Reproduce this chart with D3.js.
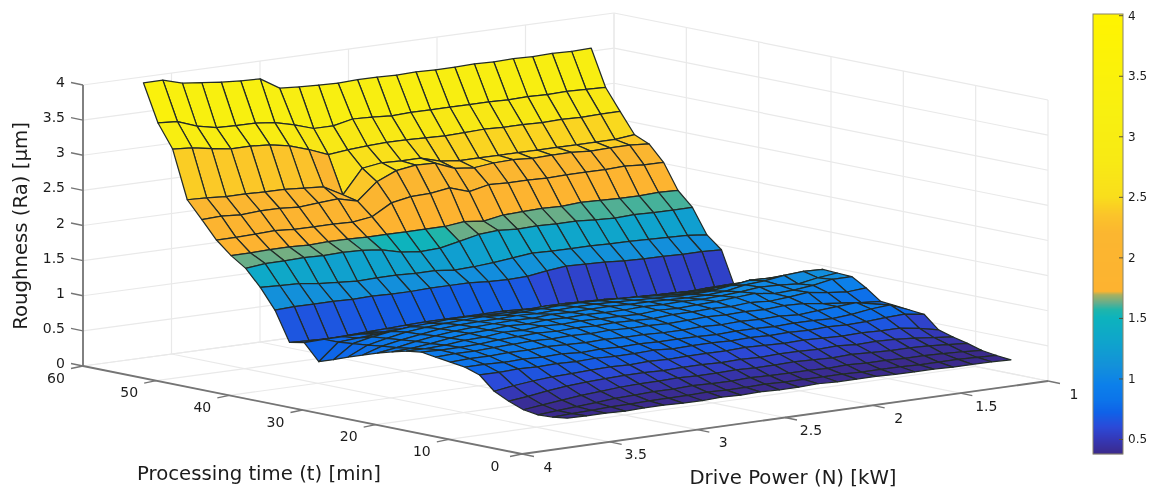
<!DOCTYPE html>
<html>
<head>
<meta charset="utf-8">
<title>Roughness surface</title>
<script src="https://cdn.jsdelivr.net/npm/d3@7"></script>
<style>
  html, body { margin: 0; padding: 0; background: #fff; }
  svg { display: block; filter: blur(0.55px); }
  text { font-family: "DejaVu Sans", sans-serif; fill: #1c1c1c; }
</style>
</head>
<body>
<script>
const width = 1153;
const height = 490;

const powerValues = [3.7, 3.59, 3.48, 3.37, 3.26, 3.15, 3.04, 2.93, 2.82, 2.71, 2.6, 2.49,
  2.38, 2.27, 2.16, 2.05, 1.94, 1.83, 1.72, 1.61, 1.5, 1.39, 1.28, 1.17];
const timeValues = [59, 57, 55, 53, 51, 49, 47, 45, 43, 41, 39, 37, 35, 33, 31,
  29, 27, 25, 23, 21, 19, 17, 15, 13, 11, 9, 7, 5, 3, 1];

// roughness, one row per time value, one column per power value
const roughness = [
  [3.95,3.95,3.87,3.84,3.81,3.79,3.78,3.61,3.59,3.58,3.57,3.58,3.58,3.57,3.58,3.57,3.57,3.58,3.57,3.58,3.57,3.58,3.57,3.58],
  [3.42,3.40,3.30,3.24,3.23,3.23,3.20,3.13,3.04,3.04,3.10,3.09,3.07,3.08,3.08,3.08,3.08,3.08,3.07,3.08,3.07,3.08,3.07,3.06],
  [3.09,3.07,3.02,2.98,2.98,2.96,2.91,2.82,2.71,2.74,2.76,2.77,2.77,2.76,2.75,2.76,2.77,2.76,2.76,2.75,2.76,2.75,2.76,2.76],
  [2.41,2.40,2.38,2.38,2.37,2.37,2.35,2.33,2.18,2.52,2.56,2.55,2.55,2.47,2.44,2.44,2.44,2.44,2.44,2.44,2.44,2.44,2.44,2.47],
  [2.17,2.18,2.16,2.18,2.18,2.16,2.18,2.20,2.13,2.37,2.49,2.53,2.52,2.41,2.38,2.41,2.42,2.40,2.41,2.41,2.39,2.40,2.40,2.38],
  [1.92,1.92,1.93,1.94,1.92,1.92,1.92,1.91,1.95,2.11,2.16,2.17,2.21,2.12,2.18,2.17,2.17,2.16,2.17,2.17,2.17,2.18,2.16,2.16],
  [1.74,1.74,1.75,1.75,1.74,1.75,1.75,1.74,1.74,1.74,1.74,1.74,1.77,1.74,1.79,1.80,1.81,1.80,1.82,1.81,1.80,1.80,1.81,1.80],
  [1.60,1.63,1.63,1.64,1.63,1.64,1.63,1.60,1.53,1.50,1.51,1.57,1.63,1.65,1.63,1.64,1.63,1.63,1.61,1.60,1.61,1.60,1.60,1.60],
  [1.37,1.36,1.35,1.31,1.29,1.27,1.28,1.28,1.27,1.27,1.24,1.25,1.27,1.30,1.33,1.32,1.32,1.32,1.31,1.31,1.30,1.29,1.28,1.25],
  [1.09,1.10,1.10,1.10,1.09,1.10,1.09,1.09,1.10,1.10,1.10,1.08,1.07,1.08,1.12,1.15,1.14,1.13,1.11,1.10,1.10,1.09,1.09,1.08],
  [.67,.66,.65,.66,.67,.68,.69,.70,.70,.70,.70,.70,.69,.67,.60,.57,.56,.56,.57,.57,.56,.56,.55,.55],
  [.71,.72,.72,.72,.71,.71,.70,.70,.69,.69,.68,.68,.68,.67,.67,.66,.66,.66,.66,.67,.68,.68,.69,.70],
  [.48,.72,.74,.76,.78,.79,.80,.80,.81,.80,.80,.81,.80,.79,.79,.78,.78,.77,.77,.76,.77,.78,.78,.78],
  [.55,.74,.80,.84,.87,.88,.90,.90,.89,.88,.89,.90,.90,.89,.88,.86,.85,.84,.83,.82,.83,.84,.85,.85],
  [.63,.76,.82,.87,.90,.92,.93,.94,.92,.93,.94,.95,.95,.94,.93,.92,.90,.88,.87,.87,.90,.93,.92,.90],
  [.70,.79,.84,.88,.92,.94,.95,.95,.96,.95,.96,.97,.97,.96,.95,.94,.93,.92,.93,.97,1.01,1.00,.98,.97],
  [.77,.81,.86,.90,.93,.95,.96,.97,.96,.98,.97,.98,.98,.97,.97,.96,.95,.95,.97,1.02,1.04,1.08,1.10,1.09],
  [.83,.84,.87,.91,.94,.95,.97,.96,.98,.97,.98,.97,.97,.98,.97,.98,.97,.98,1.00,1.03,1.02,1.00,1.05,1.08],
  [.88,.88,.89,.92,.93,.96,.95,.97,.96,.97,.96,.96,.95,.97,.96,.97,.98,1.00,1.02,.98,.99,1.02,1.07,1.07],
  [.91,.90,.90,.91,.93,.94,.95,.94,.95,.94,.95,.94,.93,.95,.95,.96,.95,.97,.95,.97,1.00,.96,.93,.95],
  [.88,.89,.89,.90,.91,.92,.91,.92,.91,.92,.91,.91,.90,.91,.92,.91,.92,.91,.93,.92,.88,.85,.82,.80],
  [.85,.86,.86,.87,.87,.88,.87,.86,.87,.86,.86,.85,.85,.86,.85,.86,.85,.86,.84,.86,.88,.90,.84,.78],
  [.82,.82,.81,.82,.81,.82,.80,.81,.80,.81,.80,.80,.80,.79,.80,.80,.79,.80,.80,.79,.81,.85,.87,.76],
  [.75,.75,.76,.75,.76,.75,.76,.75,.75,.76,.74,.75,.75,.74,.75,.74,.75,.74,.75,.74,.75,.77,.78,.74],
  [.56,.60,.63,.65,.66,.67,.68,.67,.68,.67,.68,.68,.68,.69,.68,.67,.68,.67,.66,.67,.66,.66,.62,.56],
  [.46,.49,.53,.56,.58,.59,.60,.60,.59,.60,.60,.59,.60,.59,.60,.60,.59,.60,.58,.59,.58,.56,.53,.50],
  [.38,.41,.44,.47,.49,.51,.52,.52,.53,.52,.52,.53,.52,.52,.53,.52,.51,.52,.51,.50,.50,.49,.47,.45],
  [.35,.37,.39,.41,.43,.44,.45,.45,.46,.45,.45,.46,.45,.45,.45,.44,.45,.44,.44,.43,.43,.42,.41,.39],
  [.36,.37,.38,.39,.39,.40,.40,.40,.41,.40,.40,.41,.40,.40,.40,.40,.39,.39,.39,.38,.38,.38,.37,.36],
  [.385,.38,.38,.37,.38,.38,.37,.37,.38,.37,.38,.37,.37,.38,.37,.37,.37,.36,.36,.36,.35,.35,.35,.34]
];

const powerTicks = [4, 3.5, 3, 2.5, 2, 1.5, 1];
const timeTicks = [60, 50, 40, 30, 20, 10, 0];
const zTicks = [0, 0.5, 1, 1.5, 2, 2.5, 3, 3.5, 4];
const barTicks = [0.5, 1, 1.5, 2, 2.5, 3, 3.5, 4];

const colorValues = [0.38, 0.5, 0.6, 0.72, 0.82, 0.95, 1.1, 1.3, 1.5, 1.57, 1.62, 1.69, 1.72, 2.2, 2.35, 2.42, 2.5, 2.8, 3.2, 4.02];
const colorStops = ["#3b2a8c", "#3438b8", "#2b4ad8", "#0f62e8", "#0c74ea", "#0c80ea", "#1390da", "#0fa4cc", "#0db3bd",
  "#20b5aa", "#5fae8f", "#a8b060", "#fdb330", "#fbb630", "#fbc42a", "#fad022", "#f9de1c", "#f8ea14", "#f8f010", "#fff400"];

const color = d3.scaleLinear().domain(colorValues).range(colorStops).clamp(true);

const uScale = d3.scaleLinear().domain([4, 1]).range([0, 1]);
const vScale = d3.scaleLinear().domain([60, 0]).range([0, 1]);
const zScale = d3.scaleLinear().domain([0, 4]).range([0, 281]);

// floor corners of the plot box, slightly off a parallelogram
const floorX = [[83, 522], [614, 1048]];
const floorY = [[366, 454], [294, 381]];

function project(power, time, z) {
  const u = uScale(power);
  const v = vScale(time);
  const x = (1 - u) * ((1 - v) * floorX[0][0] + v * floorX[0][1]) + u * ((1 - v) * floorX[1][0] + v * floorX[1][1]);
  const y = (1 - u) * ((1 - v) * floorY[0][0] + v * floorY[0][1]) + u * ((1 - v) * floorY[1][0] + v * floorY[1][1]);
  return [x, y - zScale(z)];
}

const svg = d3.select("body").append("svg").attr("width", width).attr("height", height);
const line = d3.line();

function segment(layer, a, b, stroke, strokeWidth) {
  layer.append("path").attr("d", line([a, b])).attr("fill", "none")
    .attr("stroke", stroke).attr("stroke-width", strokeWidth);
}

// grid on the floor and the two back walls
const grid = svg.append("g");
const gridColor = "#e9e9e9";
powerTicks.forEach(function (p) {
  segment(grid, project(p, 60, 0), project(p, 0, 0), gridColor, 1.2);
  segment(grid, project(p, 60, 0), project(p, 60, 4), gridColor, 1.2);
});
timeTicks.forEach(function (t) {
  segment(grid, project(4, t, 0), project(1, t, 0), gridColor, 1.2);
  segment(grid, project(1, t, 0), project(1, t, 4), gridColor, 1.2);
});
zTicks.forEach(function (z) {
  segment(grid, project(4, 60, z), project(1, 60, z), gridColor, 1.2);
  segment(grid, project(1, 60, z), project(1, 0, z), gridColor, 1.2);
});

// axes
const axes = svg.append("g");
const axisColor = "#757575";
segment(axes, project(4, 60, 0), project(4, 60, 4), axisColor, 1.8);
segment(axes, project(4, 60, 0), project(4, 0, 0), axisColor, 1.8);
segment(axes, project(4, 0, 0), project(1, 0, 0), axisColor, 1.8);

const tickFont = 14;
zTicks.forEach(function (z) {
  const a = project(4, 60, z);
  segment(axes, a, [a[0] - 12, a[1] - 2.5], axisColor, 1.3);
  axes.append("text").attr("x", a[0] - 18).attr("y", a[1] - 2).attr("text-anchor", "end")
    .attr("dominant-baseline", "middle").attr("font-size", tickFont).text(z);
});
timeTicks.forEach(function (t) {
  const a = project(4, t, 0);
  segment(axes, a, [a[0] - 12, a[1] + 2.5], axisColor, 1.3);
  axes.append("text").attr("x", a[0] - 27).attr("y", a[1] + 12.5).attr("text-anchor", "middle")
    .attr("dominant-baseline", "middle").attr("font-size", tickFont).text(t);
});
powerTicks.forEach(function (p) {
  const a = project(p, 0, 0);
  segment(axes, a, [a[0] + 12, a[1] + 2.5], axisColor, 1.3);
  axes.append("text").attr("x", a[0] + 26).attr("y", a[1] + 13.5).attr("text-anchor", "middle")
    .attr("dominant-baseline", "middle").attr("font-size", tickFont).text(p);
});

svg.append("text").attr("transform", "translate(21,226) rotate(-90)").attr("text-anchor", "middle")
  .attr("dominant-baseline", "middle").attr("font-size", 19.7).text("Roughness (Ra) [µm]");
svg.append("text").attr("x", 259).attr("y", 474).attr("text-anchor", "middle")
  .attr("dominant-baseline", "middle").attr("font-size", 19.7).text("Processing time (t) [min]");
svg.append("text").attr("x", 793).attr("y", 478).attr("text-anchor", "middle")
  .attr("dominant-baseline", "middle").attr("font-size", 19.7).text("Drive Power (N) [kW]");

// surface cells, far rows first and right columns first so nearer cells cover them
const cells = [];
for (let k = 0; k < timeValues.length - 1; k++) {
  for (let j = powerValues.length - 2; j >= 0; j--) {
    cells.push({ k: k, j: j });
  }
}

svg.append("g").selectAll("path").data(cells).enter().append("path")
  .attr("d", function (d) {
    const k = d.k;
    const j = d.j;
    return line([
      project(powerValues[j], timeValues[k], roughness[k][j]),
      project(powerValues[j + 1], timeValues[k], roughness[k][j + 1]),
      project(powerValues[j + 1], timeValues[k + 1], roughness[k + 1][j + 1]),
      project(powerValues[j], timeValues[k + 1], roughness[k + 1][j])
    ]) + "Z";
  })
  .attr("fill", function (d) { return color(roughness[d.k + 1][d.j + 1]); })
  .attr("stroke", "#222b28")
  .attr("stroke-width", 1.25)
  .attr("stroke-linejoin", "round");

// colorbar
const barLeft = 1093;
const barWidth = 30;
const barScale = d3.scaleLinear().domain([0.376, 4.01]).range([454, 14]);
const bar = svg.append("g");
bar.selectAll("rect").data(d3.range(14, 454)).enter().append("rect")
  .attr("x", barLeft).attr("y", function (d) { return d; })
  .attr("width", barWidth).attr("height", 1.2)
  .attr("fill", function (d) { return color(barScale.invert(d + 0.5)); });
bar.append("rect").attr("x", barLeft).attr("y", 14).attr("width", barWidth).attr("height", 440)
  .attr("fill", "none").attr("stroke", "#8a8468").attr("stroke-width", 1);

const barAxis = d3.axisRight(barScale).tickValues(barTicks).tickSizeInner(-4).tickSizeOuter(0)
  .tickPadding(5).tickFormat(function (d) { return d; });
const barG = svg.append("g").attr("transform", "translate(" + (barLeft + barWidth) + ",0)").call(barAxis);
barG.select(".domain").remove();
barG.selectAll("line").attr("stroke", "#55503a");
barG.selectAll("text").attr("font-size", 12).attr("font-family", "DejaVu Sans").style("fill", "#1c1c1c");
</script>
</body>
</html>
